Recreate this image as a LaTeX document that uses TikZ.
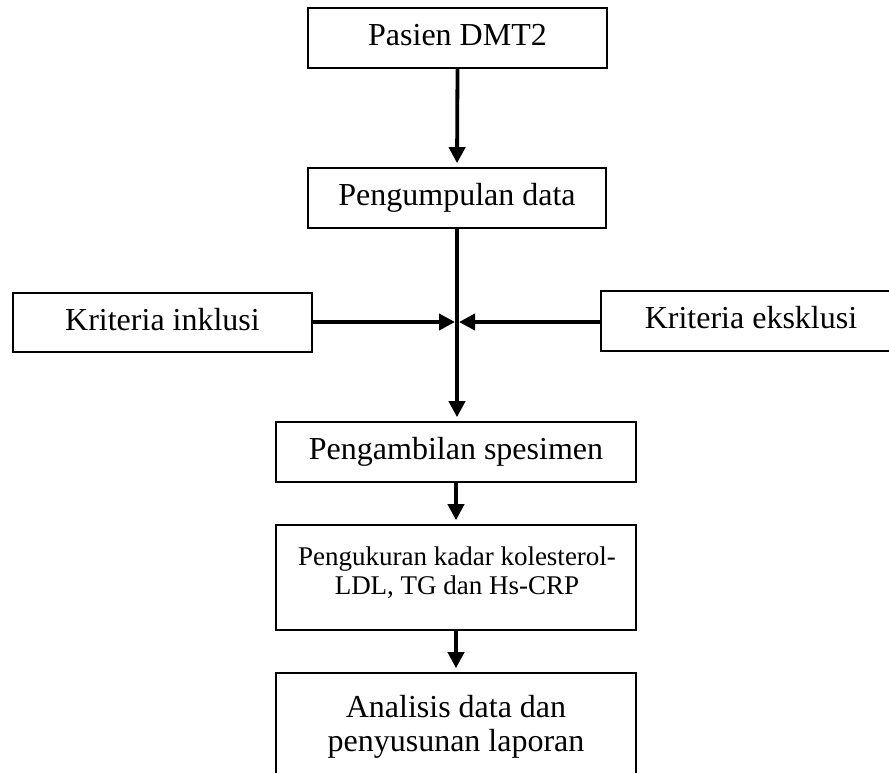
\documentclass[tikz,border=0pt]{standalone}
\usepackage{fontspec}
\setmainfont{Liberation Serif}
\usetikzlibrary{arrows.meta}
\begin{document}
\begin{tikzpicture}[x=1pt,y=-1pt,
  box/.style={draw, line width=1.6pt, inner sep=0pt, align=center,
    font=\fontsize{32}{36}\selectfont, text height=22pt, text depth=7pt},
  txt/.style={inner sep=0pt, align=center},
  conn/.style={line width=3.8pt},
  arr/.style={conn, -{Triangle[length=16pt,width=16pt]}},
]
\path[use as bounding box] (0,0) rectangle (889,772);
\clip (0,0) rectangle (889,772);
\node[box, minimum width=299pt, minimum height=60pt] (pasien) at (457.5,38) {Pasien DMT2};
\node[box, minimum width=298pt, minimum height=60pt] (data) at (457,198) {Pengumpulan data};
\node[box, minimum width=299pt, minimum height=59pt] (inklusi) at (162.5,322.5) {Kriteria inklusi};
\node[box, minimum width=300pt, minimum height=60pt] (eksklusi) at (751,321) {Kriteria eksklusi};
\node[box, minimum width=360pt, minimum height=60pt] (spesimen) at (456,452) {Pengambilan spesimen};
\node[box, minimum width=360pt, minimum height=105pt] (ukur) at (456,577.5) {};
\node[txt, anchor=north, font=\fontsize{27}{29}\selectfont] (ukurtxt) at (457,546.5) {Pengukuran kadar kolesterol-\\LDL, TG dan Hs-CRP};
\node[box, minimum width=360pt, minimum height=130pt] (analisis) at (456,738) {};
\node[txt, anchor=north, font=\fontsize{32}{34}\selectfont] (analisistxt) at (456,695) {Analisis data dan\\penyusunan laporan};
\coordinate (c) at (457,322);
\draw[arr, shorten >=4pt] (pasien.south) -- (data.north);
\draw[arr, shorten >=4pt] (data.south) -- (data.south |- spesimen.north);
\draw[arr, shorten >=2pt] (inklusi.east |- c) -- (c);
\draw[arr, shorten >=2pt] (eksklusi.west |- c) -- (c);
\draw[arr, shorten >=4pt] (spesimen.south) -- (spesimen.south |- ukur.north);
\draw[arr, shorten >=4pt] (ukur.south) -- (ukur.south |- analisis.north);
\end{tikzpicture}
\end{document}
